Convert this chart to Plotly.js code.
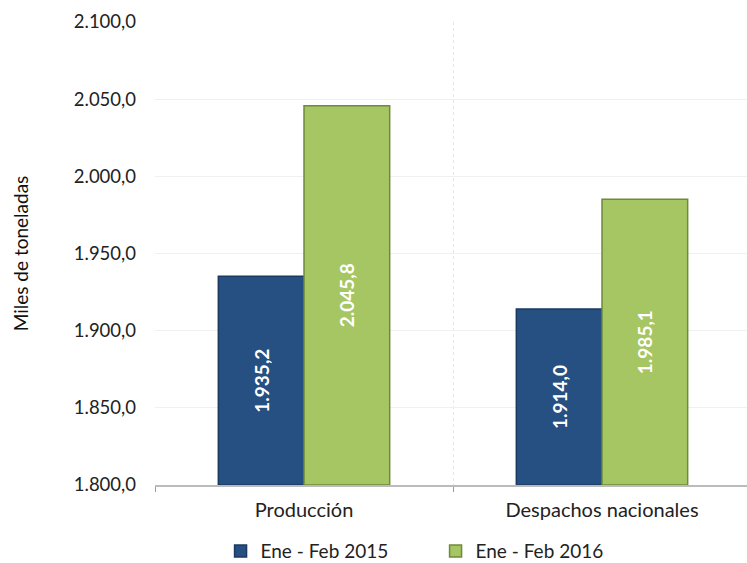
<!DOCTYPE html>
<html>
<head>
<meta charset="utf-8">
<script src="https://cdn.plot.ly/plotly-3.0.1.min.js"></script>
<style>
html,body{margin:0;padding:0;overflow:hidden;background:#fff;}
#chart{width:753px;height:563px;}
</style>
</head>
<body>
<div id="chart"></div>
<script>
const categories = ["Producción", "Despachos nacionales"];
const seriesNames = ["Ene - Feb 2015", "Ene - Feb 2016"];
const values2015 = [1935.2, 1914.0];
const values2016 = [2045.8, 1985.1];
const yTicks = [1800, 1850, 1900, 1950, 2000, 2050, 2100];
const yMin = 1800, yMax = 2100;

const FONT = "Lato, 'Liberation Sans', sans-serif";

// Bars start at the axis floor so that the value label is centred in the visible bar.
function barTrace(name, vals, color, edge) {
  return {
    type: "bar",
    name: name,
    x: categories,
    y: vals.map(v => v - yMin),
    base: vals.map(() => yMin),
    customdata: vals,
    marker: {color: color, line: {color: edge, width: 1.5}},
    texttemplate: "%{customdata:,.1f}",
    textposition: "inside",
    insidetextanchor: "middle",
    textangle: -90,
    textfont: {family: FONT, size: 19, color: "#ffffff", weight: "bold"},
    hovertemplate: "%{x}: %{customdata:,.1f}<extra>" + name + "</extra>"
  };
}

const data = [
  barTrace(seriesNames[0], values2015, "#264F82", "#1B3A61"),
  barTrace(seriesNames[1], values2016, "#A6C663", "#6E8A3C")
];

const layout = {
  width: 753,
  height: 563,
  separators: ",.",
  margin: {l: 155, r: 2, t: 22, b: 78, autoexpand: false},
  paper_bgcolor: "#ffffff",
  plot_bgcolor: "#ffffff",
  font: {family: FONT, size: 18, color: "#222222"},
  barmode: "group",
  bargap: 0.425,
  bargroupgap: 0,
  showlegend: true,
  legend: {
    orientation: "h",
    x: 0.11, xanchor: "left",
    y: -0.143, yanchor: "middle",
    font: {family: FONT, size: 19, color: "#222222"},
    itemwidth: 30,
    entrywidth: 170,
    traceorder: "normal"
  },
  xaxis: {
    type: "category",
    tickson: "boundaries",
    ticks: "outside",
    ticklen: 5,
    tickcolor: "#999999",
    showline: true,
    linecolor: "#BBBBBB",
    linewidth: 1.5,
    showgrid: true,
    gridcolor: "#E6E6E6",
    griddash: "dot",
    tickfont: {family: FONT, size: 20, color: "#222222"},
    ticklabelstandoff: 6,
    fixedrange: true
  },
  yaxis: {
    range: [yMin, yMax],
    tickvals: yTicks,
    tickformat: ",.1f",
    showline: false,
    zeroline: false,
    showgrid: true,
    gridcolor: "#F0F0F0",
    gridwidth: 1,
    ticks: "",
    ticklabelstandoff: 18,
    tickfont: {family: FONT, size: 18.5, color: "#222222"},
    title: {text: "Miles de toneladas", font: {family: FONT, size: 19, color: "#111111"}, standoff: 40},
    fixedrange: true
  }
};

Plotly.newPlot("chart", data, layout, {displayModeBar: false, staticPlot: true});
</script>
</body>
</html>
